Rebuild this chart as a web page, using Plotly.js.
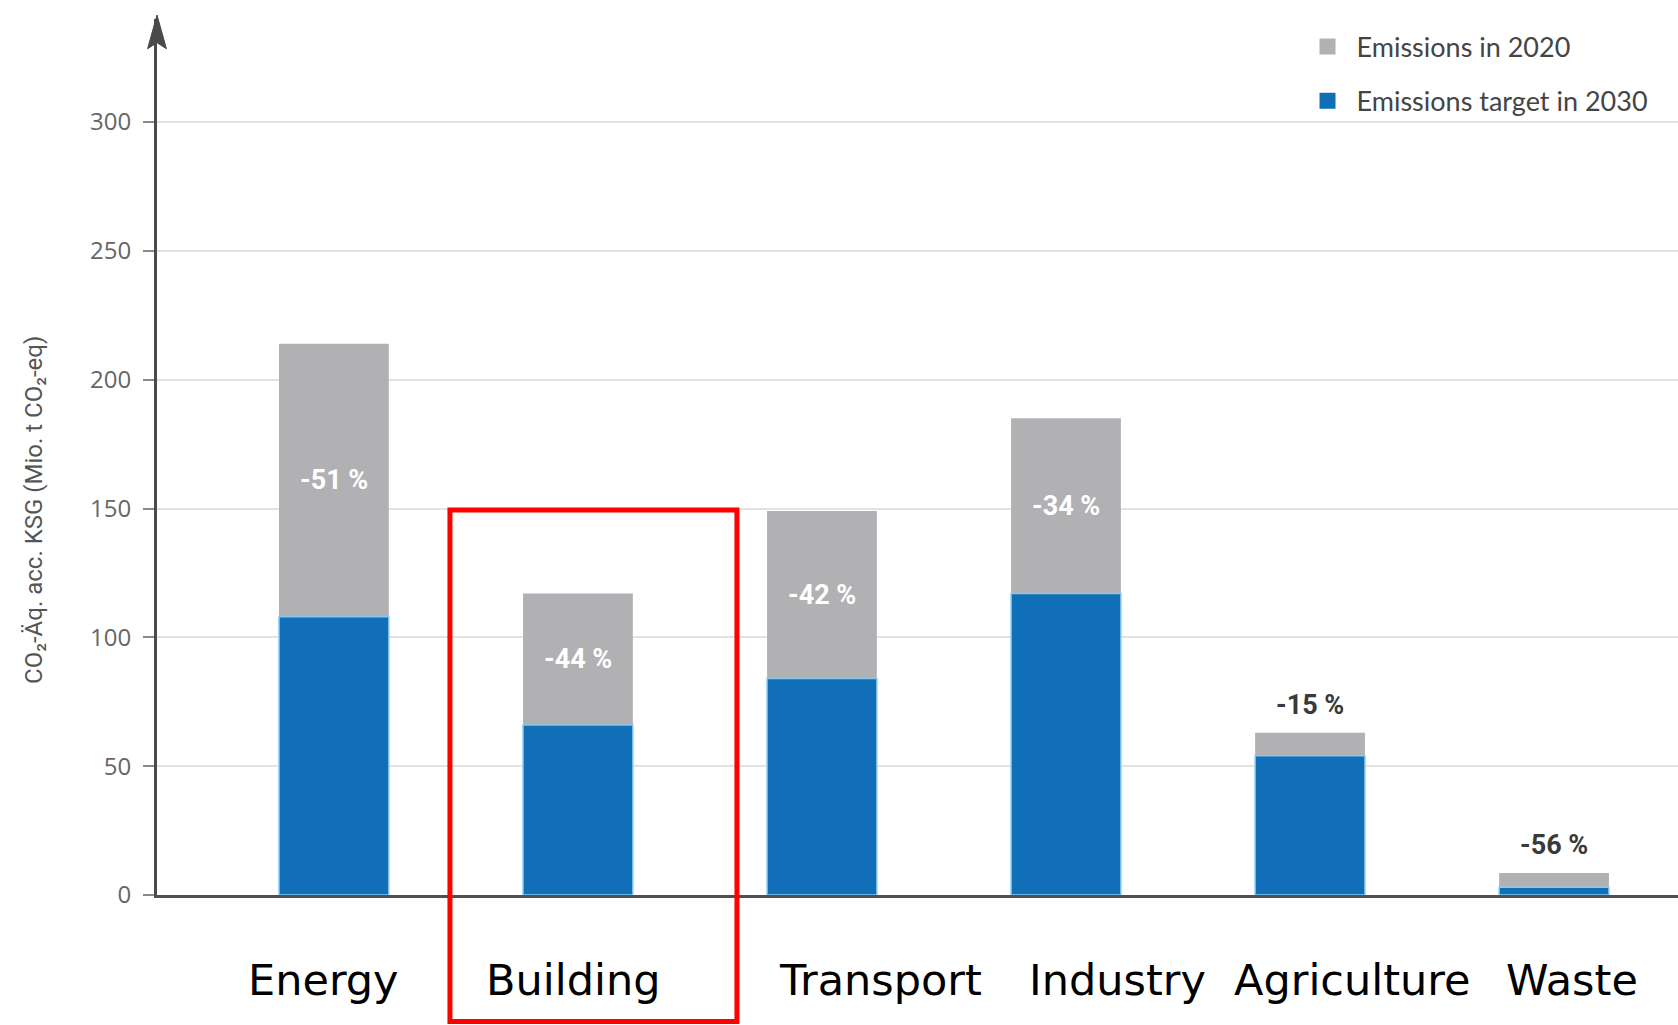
<!DOCTYPE html>
<html>
<head>
<meta charset="utf-8">
<script src="https://cdn.plot.ly/plotly-3.0.1.min.js"></script>
<style>
  html, body { margin: 0; padding: 0; background: #ffffff; }
  #chart { width: 1678px; height: 1025px; }
</style>
</head>
<body>
<div id="chart"></div>
<script>
// ---- Data ----
const categories = ['Energy', 'Building', 'Transport', 'Industry', 'Agriculture', 'Waste'];
const emissions2020 = [214, 117, 149, 185, 63, 8.5];
const target2030 = [108, 66, 84, 117, 54, 3];
const reductionLabels = ['-51 %', '-44 %', '-42 %', '-34 %', '-15 %', '-56 %'];
const yTickValues = [0, 50, 100, 150, 200, 250, 300];
const yTickLabels = ['0', '50', '100', '150', '200', '250', '300'];
const seriesNames = ['Emissions in 2020', 'Emissions target in 2030'];
const yAxisTitle = 'CO\u2082-Äq. acc. KSG (Mio. t CO\u2082-eq)';

// ---- Styling (positions / looks, not data) ----
const grey = '#b1b1b3';
const blue = '#106fb7';
const labelShift = [-10, -5, 59, 52, 42, 18]; // horizontal nudges of category labels (px)

const traces = [
  {
    type: 'bar', x: categories, y: emissions2020, width: 0.45,
    marker: { color: grey }, showlegend: false, hoverinfo: 'x+y'
  },
  {
    type: 'bar', x: categories, y: target2030, width: 0.45,
    marker: { color: blue, line: { color: '#86c8f0', width: 1.5 } },
    showlegend: false, hoverinfo: 'x+y'
  },
  {
    type: 'scatter', mode: 'markers', x: [null], y: [null], name: seriesNames[0],
    legendgroup: 'a', marker: { symbol: 'square', size: 18, color: grey }
  },
  {
    type: 'scatter', mode: 'markers', x: [null], y: [null], name: seriesNames[1],
    legendgroup: 'b', marker: { symbol: 'square', size: 18, color: blue }
  }
];

const annotations = [];
categories.forEach((c, i) => {
  const gap = emissions2020[i] - target2030[i];
  if (gap > 20) {
    annotations.push({
      x: c, y: (emissions2020[i] + target2030[i]) / 2, xref: 'x', yref: 'y',
      text: reductionLabels[i], showarrow: false,
      font: { family: 'Roboto, sans-serif', size: 27, color: '#ffffff', weight: 700 }
    });
  } else {
    annotations.push({
      x: c, y: emissions2020[i], xref: 'x', yref: 'y', yanchor: 'bottom', yshift: 10,
      text: reductionLabels[i], showarrow: false,
      font: { family: 'Roboto, sans-serif', size: 27, color: '#3a3a3a', weight: 700 }
    });
  }
  annotations.push({
    x: c, y: 0, xref: 'x', yref: 'y', yanchor: 'middle', yshift: -85, xshift: labelShift[i],
    text: c, showarrow: false,
    font: { family: 'DejaVu Sans, sans-serif', size: 43, color: '#000000' }
  });
});
annotations.push({
  xref: 'paper', yref: 'paper', x: -0.0809, y: 0.4395, xanchor: 'center', yanchor: 'middle',
  text: yAxisTitle, textangle: -90, showarrow: false,
  font: { family: 'Roboto, sans-serif', size: 24, color: '#555555' }
});

const layout = {
  width: 1678, height: 1025,
  margin: { l: 157, r: 0, t: 19, b: 130, pad: 0 },
  paper_bgcolor: '#ffffff', plot_bgcolor: '#ffffff',
  barmode: 'overlay',
  showlegend: true,
  legend: {
    x: 0.7505, y: 0.996, xanchor: 'left', yanchor: 'top', itemwidth: 48,
    bgcolor: 'rgba(0,0,0,0)', tracegroupgap: 16, traceorder: 'grouped',
    font: { family: 'Lato, Open Sans, sans-serif', size: 27, color: '#444444' }
  },
  xaxis: {
    type: 'category', range: [-0.725, 5.508], showticklabels: false, showgrid: false,
    showline: true, linecolor: '#505050', linewidth: 3, zeroline: false, ticks: '', fixedrange: true
  },
  yaxis: {
    range: [0, 340], tickmode: 'array', tickvals: yTickValues, ticktext: yTickLabels,
    showgrid: true, gridcolor: '#e2e2e2', gridwidth: 2, zeroline: false,
    showline: true, linecolor: '#4a4a4a', linewidth: 3,
    ticks: 'outside', ticklen: 11, tickwidth: 2, tickcolor: '#8a8a8a', ticklabelstandoff: 7,
    tickfont: { family: 'Open Sans, sans-serif', size: 24, color: '#666666' }, fixedrange: true
  },
  annotations: annotations,
  shapes: [
    // arrow head on the y axis
    {
      type: 'path', xref: 'paper', yref: 'paper',
      path: 'M 0 1.0046 L -0.0062 0.966 L 0 0.973 L 0.0062 0.966 Z',
      fillcolor: '#4a4a4a', line: { color: '#4a4a4a', width: 1 }
    },
    // red highlight box around "Building"
    {
      type: 'rect', xref: 'paper', yref: 'paper',
      x0: 0.1926, x1: 0.3813, y0: -0.1445, y1: 0.4395,
      line: { color: '#ff0000', width: 5 }, fillcolor: 'rgba(0,0,0,0)'
    }
  ]
};

Plotly.newPlot('chart', traces, layout, { displayModeBar: false, staticPlot: true });
</script>
</body>
</html>
